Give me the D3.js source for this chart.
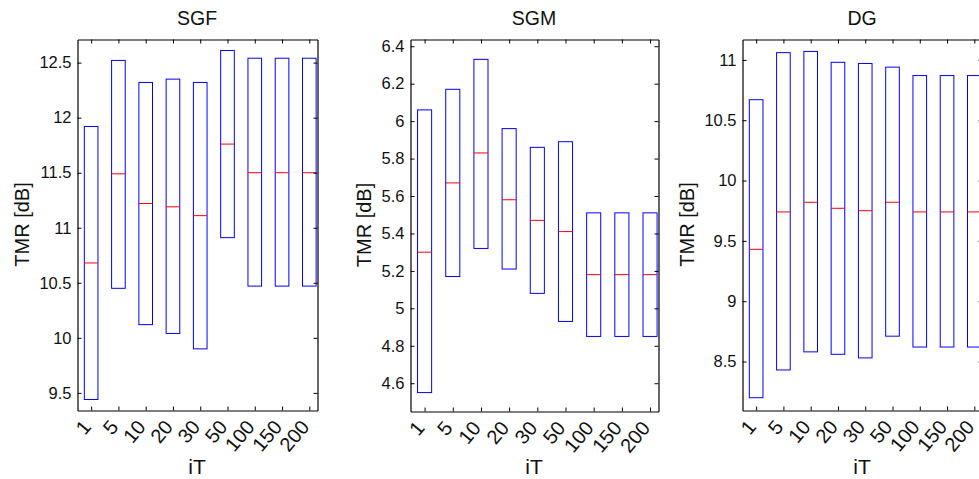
<!DOCTYPE html>
<html>
<head>
<meta charset="utf-8">
<script src="https://cdn.jsdelivr.net/npm/d3@7"></script>
<style>
  html, body { margin: 0; padding: 0; background: #fff; }
  svg { display: block; font-family: 'Liberation Sans', Arial, Helvetica, sans-serif; }
</style>
</head>
<body>
<svg id="chart" width="979" height="479"></svg>
<script>
// iT categories (shared by all three panels)
const iTLabels = ['1', '5', '10', '20', '30', '50', '100', '150', '200'];

// SGF boxes
const sgfQ1  = [9.44, 10.45, 10.12, 10.04, 9.90, 10.91, 10.47, 10.47, 10.47];
const sgfMed = [10.68, 11.49, 11.22, 11.19, 11.11, 11.76, 11.50, 11.50, 11.50];
const sgfQ3  = [11.92, 12.52, 12.32, 12.35, 12.32, 12.61, 12.54, 12.54, 12.54];
const sgfTicks = [9.5, 10, 10.5, 11, 11.5, 12, 12.5];

// SGM boxes
const sgmQ1  = [4.55, 5.17, 5.32, 5.21, 5.08, 4.93, 4.85, 4.85, 4.85];
const sgmMed = [5.30, 5.67, 5.83, 5.58, 5.47, 5.41, 5.18, 5.18, 5.18];
const sgmQ3  = [6.06, 6.17, 6.33, 5.96, 5.86, 5.89, 5.51, 5.51, 5.51];
const sgmTicks = [4.6, 4.8, 5, 5.2, 5.4, 5.6, 5.8, 6, 6.2, 6.4];

// DG boxes
const dgQ1  = [8.20, 8.43, 8.58, 8.56, 8.53, 8.71, 8.62, 8.62, 8.62];
const dgMed = [9.43, 9.74, 9.82, 9.77, 9.75, 9.82, 9.74, 9.74, 9.74];
const dgQ3  = [10.67, 11.06, 11.07, 10.98, 10.97, 10.94, 10.87, 10.87, 10.87];
const dgTicks = [8.5, 9, 9.5, 10, 10.5, 11];

const panels = [
  { title: 'SGF', q1: sgfQ1, med: sgfMed, q3: sgfQ3, ticks: sgfTicks, yDomain: [9.34, 12.71],
    left: 77, right: 317, top: 39, bottom: 410, ylabelX: 29 },
  { title: 'SGM', q1: sgmQ1, med: sgmMed, q3: sgmQ3, ticks: sgmTicks, yDomain: [4.449, 6.436],
    left: 410, right: 658, top: 39, bottom: 411, ylabelX: 371 },
  { title: 'DG', q1: dgQ1, med: dgMed, q3: dgQ3, ticks: dgTicks, yDomain: [8.094, 11.169],
    left: 742, right: 982, top: 39, bottom: 410, ylabelX: 694 }
];

const svg = d3.select('#chart');
svg.append('rect').attr('width', 979).attr('height', 479).attr('fill', '#fff');

const tickLen = 4;
const fmt = d => String(+d.toFixed(2));

panels.forEach(p => {
  const w = p.right - p.left;
  const h = p.bottom - p.top;
  const g = svg.append('g').attr('transform', `translate(${p.left + 0.5},${p.top + 0.5})`);

  const x = d3.scaleLinear().domain([0.5, 9.3]).range([0, w]);
  const y = d3.scaleLinear().domain(p.yDomain).range([h, 0]);
  const idx = d3.range(1, iTLabels.length + 1);

  // boxes
  const boxW = x(1.25) - x(1);
  g.append('g').selectAll('rect')
    .data(idx)
    .enter()
    .append('rect')
    .attr('x', i => x(i) - boxW)
    .attr('width', boxW * 2)
    .attr('y', i => y(p.q3[i - 1]))
    .attr('height', i => y(p.q1[i - 1]) - y(p.q3[i - 1]))
    .attr('fill', 'none')
    .attr('stroke', '#0000ff')
    .attr('stroke-width', 1);

  // medians
  g.append('g').selectAll('line')
    .data(idx)
    .enter()
    .append('line')
    .attr('x1', i => x(i) - boxW)
    .attr('x2', i => x(i) + boxW)
    .attr('y1', i => y(p.med[i - 1]))
    .attr('y2', i => y(p.med[i - 1]))
    .attr('stroke', '#ff0000')
    .attr('stroke-width', 1);

  // axes (ticks inward, mirrored on top and right)
  const yLeft = d3.axisLeft(y).tickValues(p.ticks).tickFormat(fmt)
    .tickSizeInner(-tickLen).tickSizeOuter(0).tickPadding(6);
  const yRight = d3.axisRight(y).tickValues(p.ticks).tickFormat('')
    .tickSizeInner(-tickLen).tickSizeOuter(0);
  const xBottom = d3.axisBottom(x).tickValues(idx).tickFormat('')
    .tickSizeInner(-tickLen).tickSizeOuter(0);
  const xTop = d3.axisTop(x).tickValues(idx).tickFormat('')
    .tickSizeInner(-tickLen).tickSizeOuter(0);

  const gl = g.append('g').call(yLeft);
  g.append('g').attr('transform', `translate(${w},0)`).call(yRight);
  g.append('g').attr('transform', `translate(0,${h})`).call(xBottom);
  g.append('g').call(xTop);

  g.selectAll('.domain').attr('stroke', '#000').attr('stroke-width', 1.2);
  g.selectAll('.tick line').attr('stroke', '#000');
  gl.selectAll('.tick text')
    .attr('font-size', 16.5)
    .attr('fill', '#111')
    .attr('font-family', "'Liberation Sans', Arial, sans-serif");

  // rotated x tick labels
  g.append('g').selectAll('text')
    .data(idx)
    .enter()
    .append('text')
    .attr('transform', i => `translate(${x(i) + 1},${h + 17}) rotate(-50)`)
    .attr('text-anchor', 'end')
    .attr('font-size', 20)
    .attr('fill', '#111')
    .text(i => iTLabels[i - 1]);

  // title
  svg.append('text')
    .attr('x', (p.left + p.right) / 2)
    .attr('y', 25)
    .attr('text-anchor', 'middle')
    .attr('font-size', 19.5)
    .attr('fill', '#111')
    .text(p.title);

  // y label
  svg.append('text')
    .attr('transform', `translate(${p.ylabelX},${(p.top + p.bottom) / 2}) rotate(-90)`)
    .attr('text-anchor', 'middle')
    .attr('font-size', 20)
    .attr('fill', '#111')
    .text('TMR [dB]');

  // x label
  svg.append('text')
    .attr('x', (p.left + p.right) / 2)
    .attr('y', 474)
    .attr('text-anchor', 'middle')
    .attr('font-size', 21)
    .attr('fill', '#111')
    .text('iT');
});
</script>
</body>
</html>
